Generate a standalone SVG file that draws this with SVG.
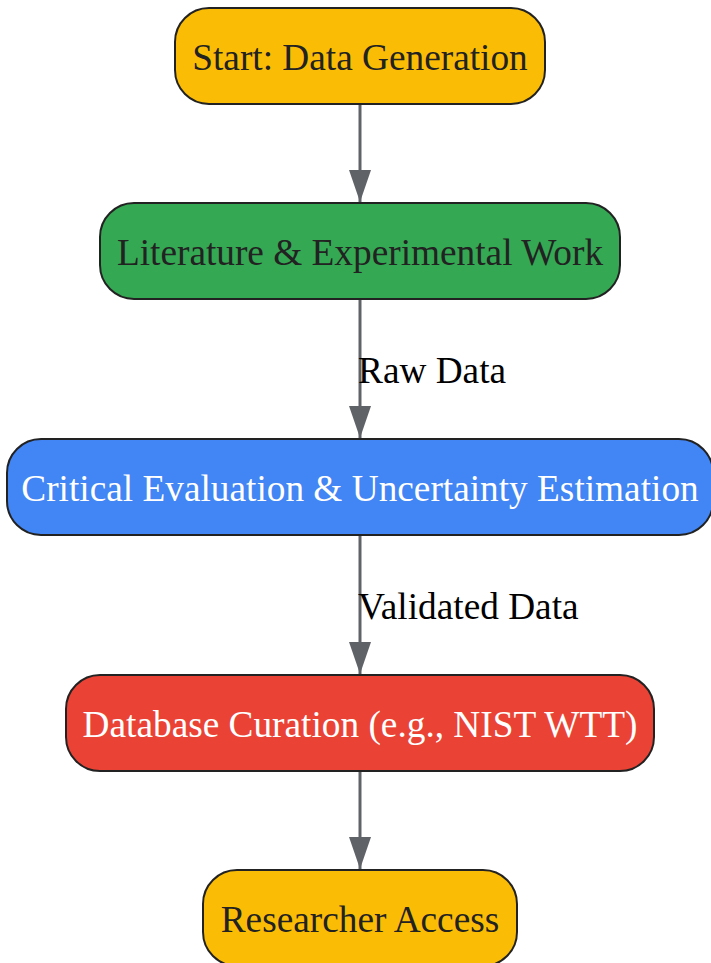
<svg xmlns="http://www.w3.org/2000/svg" width="711" height="963" viewBox="0 0 711 963">
<style>
.n{stroke:#222;stroke-width:2}
.t{font-family:"Liberation Serif","Times New Roman",serif;font-size:37.3px;text-anchor:middle}
.d{fill:#222}
.w{fill:#fff}
.e{stroke:#5f6368;stroke-width:3;fill:none}
.l{font-family:"Liberation Serif","Times New Roman",serif;font-size:37.3px;fill:#000}
</style>
<defs>
<marker id="a" markerWidth="32" markerHeight="22" refX="32" refY="11" orient="auto" markerUnits="userSpaceOnUse" viewBox="0 0 32 22">
<path d="M0,0 L32,11 L0,22 Z" fill="#5f6368"/>
</marker>
</defs>
<rect width="711" height="963" fill="#fff"/>
<g id="edges">
<line class="e" x1="360" y1="104" x2="360" y2="202" marker-end="url(#a)"/>
<line class="e" x1="360" y1="299" x2="360" y2="438" marker-end="url(#a)"/>
<line class="e" x1="360" y1="535" x2="360" y2="674" marker-end="url(#a)"/>
<line class="e" x1="360" y1="771" x2="360" y2="869" marker-end="url(#a)"/>
<text class="l" x="358" y="383">Raw Data</text>
<text class="l" x="358" y="619">Validated Data</text>
</g>
<g id="n1">
<rect class="n" x="175" y="8" width="370" height="96" rx="34" fill="#fbbc05"/>
<text class="t d" x="360" y="70">Start: Data Generation</text>
</g>
<g id="n2">
<rect class="n" x="100" y="203" width="520" height="96" rx="34" fill="#34a853"/>
<text class="t d" x="360" y="265">Literature &amp; Experimental Work</text>
</g>
<g id="n3">
<rect class="n" x="7" y="439" width="706" height="96" rx="34" fill="#4285f4"/>
<text class="t w" x="360" y="501">Critical Evaluation &amp; Uncertainty Estimation</text>
</g>
<g id="n4">
<rect class="n" x="66" y="675" width="588" height="96" rx="34" fill="#ea4335"/>
<text class="t w" x="360" y="737">Database Curation (e.g., NIST WTT)</text>
</g>
<g id="n5">
<rect class="n" x="203" y="870" width="314" height="96" rx="34" fill="#fbbc05"/>
<text class="t d" x="360" y="932">Researcher Access</text>
</g>
</svg>
